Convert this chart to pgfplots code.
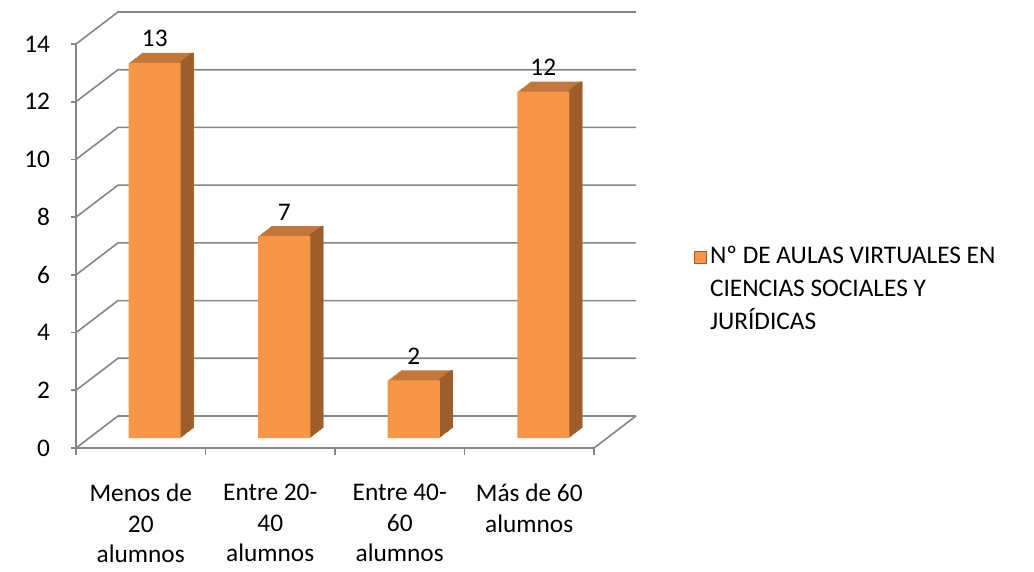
\documentclass[border=0pt]{standalone}
\usepackage{pgfplots}
\usepackage{pgfplotstable}
\pgfplotsset{compat=1.18}
\usepackage{fontspec}
\setmainfont{Carlito}
\definecolor{barfront}{HTML}{F79646}
\definecolor{bartop}{HTML}{C4773A}
\definecolor{barside}{HTML}{9E5E2B}
\definecolor{gridgray}{HTML}{868686}
\pgfplotstableread{
x v
0.5 13
1.5 7
2.5 2
3.5 12
}\datatable
\newcommand{\chfont}{\fontsize{19}{24.75}\selectfont}
\newcommand{\xlfont}{\fontsize{19}{23}\selectfont}
\begin{document}
\chfont
\begin{tikzpicture}
\useasboundingbox (-57pt,-92.25pt) rectangle (718.5pt,336pt);
\begin{axis}[
  at={(0,0)}, anchor=south west,
  scale only axis, width=388.5pt, height=303pt,
  xmin=0, xmax=4, ymin=0, ymax=14,
  clip=false,
  axis x line*=bottom, axis y line*=left,
  axis line style={gridgray, line width=1.2pt},
  tick align=outside,
  tick style={gridgray, line width=1.2pt},
  major tick length=4pt, minor tick length=5.5pt,
  xtick={0.5,1.5,2.5,3.5},
  xticklabels={{Menos de\\20\\alumnos},{Entre 20-\\40\\alumnos},{Entre 40-\\60\\alumnos},{Más de 60\\alumnos}},
  xticklabel style={align=center, font=\xlfont, yshift=-16.5pt},
  major x tick style={draw=none},
  minor xtick={0,1,2,3,4},
  ytick={0,2,...,14},
  yticklabel style={font=\chfont, xshift=-9pt},
  /pgf/number format/assume math mode=true,
  legend style={draw=none, fill=none, at={(1,0.391)}, anchor=west, xshift=75pt, inner sep=0pt,
    cells={align=left, anchor=west}, font=\chfont},
  legend image code/.code={\draw[fill=barfront, draw=barside, line width=0.8pt] (-9pt,12.5pt) rectangle (0pt,21.5pt);},
]
\pgfplotsinvokeforeach{0,2,...,14}{
  \draw[gridgray, line width=1.2pt] (axis cs:0,#1) -- ([shift={(31.5pt,24pt)}]axis cs:0,#1) -- ([shift={(31.5pt,24pt)}]axis cs:4,#1);
}
\draw[gridgray, line width=1.2pt] (axis cs:4,0) -- ([shift={(31.5pt,24pt)}]axis cs:4,0);
\pgfplotsinvokeforeach{1,...,10}{
  \addplot[ybar, bar width=39pt, bar shift=0pt, fill=bartop, draw=none, forget plot,
     xshift={10.5pt+0.975pt*#1}, yshift={7.5pt+0.75pt*#1}] table[x=x,y=v]{\datatable};
}
\pgfplotsinvokeforeach{1,...,10}{
  \addplot[ybar, bar width=2pt, bar shift=18.5pt, fill=barside, draw=none, forget plot,
     xshift={10.5pt+0.975pt*#1}, yshift={7.5pt+0.75pt*#1}] table[x=x,y=v]{\datatable};
}
\addplot[ybar, bar width=39pt, bar shift=0pt, fill=barfront, draw=none,
   xshift=10.5pt, yshift=7.5pt,
   nodes near coords,
   every node near coord/.append style={font=\chfont, black, anchor=center, yshift=18pt}]
   table[x=x,y=v]{\datatable};
\addlegendentry{Nº DE AULAS VIRTUALES EN\\CIENCIAS SOCIALES Y\\JURÍDICAS}
\end{axis}
\end{tikzpicture}
\end{document}
